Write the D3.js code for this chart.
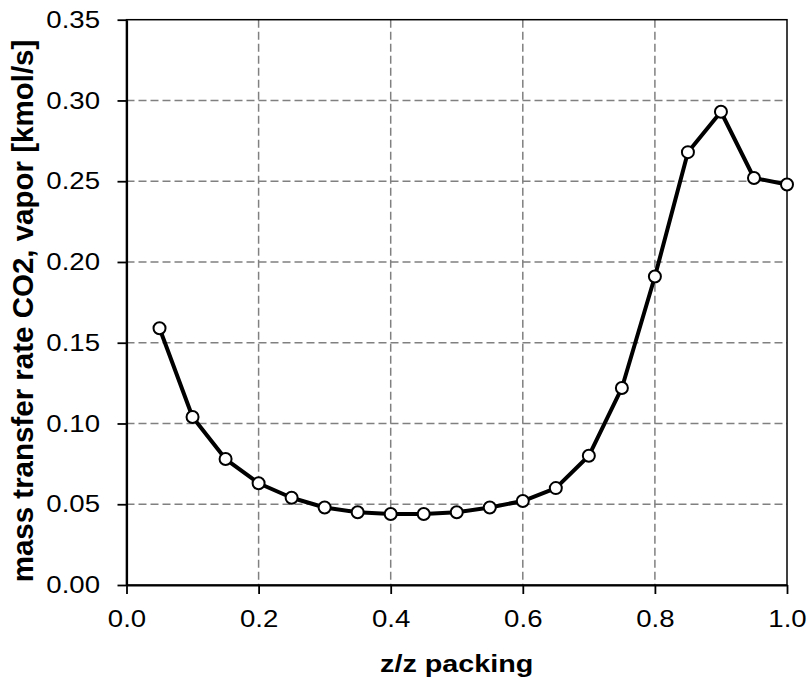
<!DOCTYPE html>
<html>
<head>
<meta charset="utf-8">
<script src="https://cdn.jsdelivr.net/npm/d3@7"></script>
<style>
  html, body { margin: 0; padding: 0; background: #fff; }
  svg { display: block; }
  text { font-family: "Liberation Sans", Arial, sans-serif; fill: #000; }
</style>
</head>
<body>
<svg id="chart" width="809" height="680"></svg>
<script>
// Relative position along the packing height
const position = [0.05, 0.10, 0.15, 0.20, 0.25, 0.30, 0.35, 0.40, 0.45, 0.50,
                  0.55, 0.60, 0.65, 0.70, 0.75, 0.80, 0.85, 0.90, 0.95, 1.00];
// CO2 mass transfer rate in the vapor phase [kmol/s]
const transferRate = [0.159, 0.104, 0.078, 0.063, 0.054, 0.048, 0.045, 0.044, 0.044, 0.045,
                      0.048, 0.052, 0.060, 0.080, 0.122, 0.191, 0.268, 0.293, 0.252, 0.248];
const xTicks = [0.0, 0.2, 0.4, 0.6, 0.8, 1.0];
const yTicks = [0.00, 0.05, 0.10, 0.15, 0.20, 0.25, 0.30, 0.35];
const xTitle = "z/z packing";
const yTitle = "mass transfer rate CO2, vapor [kmol/s]";

const svg = d3.select("#chart");
const plot = { left: 126.5, right: 787, top: 19.7, bottom: 585 };
const labelStretch = 1.15;   // tick labels are drawn slightly wide

const x = d3.scaleLinear().domain([0, 1]).range([plot.left, plot.right]);
const y = d3.scaleLinear().domain([0, 0.35]).range([plot.bottom, plot.top]);

// dashed grid, skipping the frame edges
const grid = svg.append("g").attr("stroke", "#808080").attr("stroke-width", 1.5)
  .attr("stroke-dasharray", "8,4");
grid.selectAll("line.gx").data(xTicks.filter(d => d > 0 && d < 1)).join("line")
  .attr("x1", d => x(d)).attr("x2", d => x(d))
  .attr("y1", plot.top).attr("y2", plot.bottom);
grid.selectAll("line.gy").data(yTicks.filter(d => d > 0 && d < 0.35)).join("line")
  .attr("x1", plot.left).attr("x2", plot.right)
  .attr("y1", d => y(d)).attr("y2", d => y(d));

// frame
svg.append("rect")
  .attr("x", plot.left).attr("y", plot.top)
  .attr("width", plot.right - plot.left).attr("height", plot.bottom - plot.top)
  .attr("fill", "none").attr("stroke", "#000").attr("stroke-width", 1.5);

// axes
const xAxis = d3.axisBottom(x).tickValues(xTicks).tickFormat(d3.format(".1f"))
  .tickSize(9).tickSizeOuter(0).tickPadding(16);
const yAxis = d3.axisLeft(y).tickValues(yTicks).tickFormat(d3.format(".2f"))
  .tickSize(9).tickSizeOuter(0).tickPadding(17.5);

const gx = svg.append("g").attr("transform", `translate(0,${plot.bottom})`).call(xAxis);
const gy = svg.append("g").attr("transform", `translate(${plot.left},0)`).call(yAxis);
[gx, gy].forEach(g => {
  g.select(".domain").attr("stroke", "#000").attr("stroke-width", 2.2);
  g.selectAll(".tick line").attr("stroke", "#000").attr("stroke-width", 1.8);
  g.selectAll(".tick text")
    .attr("font-family", "Liberation Sans, Arial, sans-serif")
    .attr("font-size", 24).attr("fill", "#000")
    .attr("transform", function () {
      const ax = +this.getAttribute("x") || 0;
      return `translate(${ax},0) scale(${labelStretch},1) translate(${-ax},0)`;
    });
});

// data line and markers
const pts = position.map((p, i) => [p, transferRate[i]]);
svg.append("path").datum(pts)
  .attr("fill", "none").attr("stroke", "#000").attr("stroke-width", 4)
  .attr("stroke-linejoin", "round")
  .attr("d", d3.line().x(d => x(d[0])).y(d => y(d[1])));

svg.append("g").selectAll("circle").data(pts).join("circle")
  .attr("cx", d => x(d[0])).attr("cy", d => y(d[1])).attr("r", 6)
  .attr("fill", "#fff").attr("stroke", "#000").attr("stroke-width", 2);

// axis titles
const cx = (plot.left + plot.right) / 2;
svg.append("text")
  .attr("transform", `translate(${cx},671.5) scale(1.25,1)`)
  .attr("text-anchor", "middle").attr("font-weight", "bold").attr("font-size", 23)
  .text(xTitle);

svg.append("text")
  .attr("transform", `translate(33,311) rotate(-90)`)
  .attr("text-anchor", "middle").attr("font-weight", "bold").attr("font-size", 29.5)
  .text(yTitle);
</script>
</body>
</html>
